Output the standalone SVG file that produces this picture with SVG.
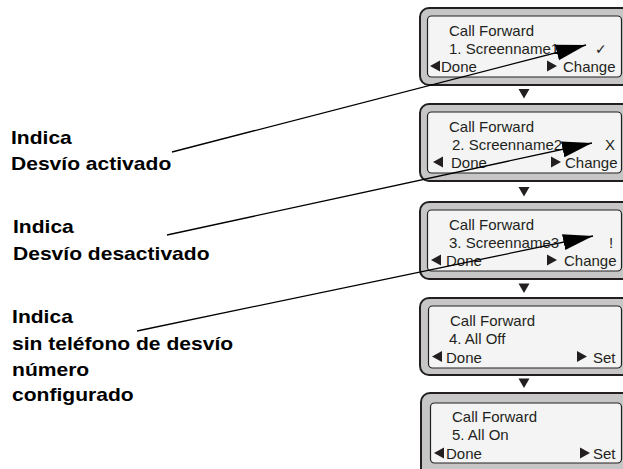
<svg xmlns="http://www.w3.org/2000/svg" width="623" height="469" viewBox="0 0 623 469">
<style>
.outer{fill:#c6c6c6;stroke:#231f20;stroke-width:2}
.screen{fill:#f4f4f4;stroke:#231f20;stroke-width:1.2}
.t{font-family:"Liberation Sans",Arial,sans-serif;font-size:15px;fill:#231f20}
.sym{font-family:"DejaVu Sans",sans-serif;font-size:14px;fill:#231f20}
.tri{fill:#231f20}
.lbl{font-family:"Liberation Sans",Arial,sans-serif;font-weight:bold;font-size:18px;fill:#000}
.conn{stroke:#000;stroke-width:1.3;fill:none}
</style>
<defs>
<marker id="ah" markerUnits="userSpaceOnUse" markerWidth="31" markerHeight="17" refX="30" refY="8" orient="auto">
<path d="M0,0 L30,8 L0,16 z" fill="#000"/>
</marker>
</defs>

<g id="box1" transform="translate(0,8)">
<rect class="outer" x="420" y="0" width="212" height="77" rx="9"/>
<rect class="screen" x="427.5" y="8" width="194" height="61" rx="4"/>
<text class="t" x="449" y="27.5">Call Forward</text>
<text class="t" x="449" y="45.5">1. Screenname1</text>
<text class="sym" x="595" y="45.5">✓</text>
<polygon class="tri" points="430,58 440,52.5 440,63.5"/>
<text class="t" x="441" y="63.5">Done</text>
<polygon class="tri" points="547,52.5 557,58 547,63.5"/>
<text class="t" x="563" y="63.5">Change</text>
</g>

<g id="box2" transform="translate(0,104)">
<rect class="outer" x="420" y="0" width="212" height="77" rx="9"/>
<rect class="screen" x="427.5" y="8" width="194" height="61" rx="4"/>
<text class="t" x="449" y="27.5">Call Forward</text>
<text class="t" x="452" y="45.5">2. Screenname2</text>
<text class="t" x="605" y="45.5">X</text>
<polygon class="tri" points="433,58 443,52.5 443,63.5"/>
<text class="t" x="451" y="63.5">Done</text>
<polygon class="tri" points="551,52.5 561,58 551,63.5"/>
<text class="t" x="565" y="63.5">Change</text>
</g>

<g id="box3" transform="translate(0,202)">
<rect class="outer" x="420" y="0" width="212" height="77" rx="9"/>
<rect class="screen" x="427.5" y="8" width="194" height="61" rx="4"/>
<text class="t" x="449" y="27.5">Call Forward</text>
<text class="t" x="449" y="45.5">3. Screenname3</text>
<text class="t" x="609" y="45.5">!</text>
<polygon class="tri" points="431,58 441,52.5 441,63.5"/>
<text class="t" x="446" y="63.5">Done</text>
<polygon class="tri" points="547,52.5 557,58 547,63.5"/>
<text class="t" x="564" y="63.5">Change</text>
</g>

<g id="box4" transform="translate(0,298)">
<rect class="outer" x="420" y="0" width="212" height="77" rx="9"/>
<rect class="screen" x="428.5" y="8" width="193" height="62" rx="4"/>
<text class="t" x="450" y="27.5">Call Forward</text>
<text class="t" x="449" y="45.5">4. All Off</text>
<polygon class="tri" points="432,58.5 442,53 442,64"/>
<text class="t" x="446" y="64.5">Done</text>
<polygon class="tri" points="577,53 587,58.5 577,64"/>
<text class="t" x="593" y="64.5">Set</text>
</g>

<g id="box5" transform="translate(0,393)">
<rect class="outer" x="421" y="0" width="212" height="90" rx="9"/>
<rect class="screen" x="430.5" y="10" width="191" height="60" rx="4"/>
<text class="t" x="452" y="29">Call Forward</text>
<text class="t" x="452" y="47">5. All On</text>
<polygon class="tri" points="434,60 444,54.5 444,65.5"/>
<text class="t" x="446" y="65.5">Done</text>
<polygon class="tri" points="580,54.5 590,60 580,65.5"/>
<text class="t" x="593" y="65.5">Set</text>
</g>

<g id="label1" transform="scale(1.17,1)">
<text class="lbl" x="9.4" y="144">Indica</text>
<text class="lbl" x="9.4" y="170">Desvío activado</text>
</g>
<g id="label2" transform="scale(1.17,1)">
<text class="lbl" x="11.1" y="233">Indica</text>
<text class="lbl" x="11.1" y="260">Desvío desactivado</text>
</g>
<g id="label3" transform="scale(1.17,1)">
<text class="lbl" x="10.3" y="323">Indica</text>
<text class="lbl" x="10.3" y="350">sin teléfono de desvío</text>
<text class="lbl" x="10.3" y="376">número</text>
<text class="lbl" x="10.3" y="401">configurado</text>
</g>

<g id="connectors">
<polygon class="tri" points="518.5,89 529.5,89 524,98.5"/>
<polygon class="tri" points="518.5,187 529.5,187 524,196.5"/>
<polygon class="tri" points="518.5,283.5 529.5,283.5 524,293"/>
<polygon class="tri" points="518.5,378.5 529.5,378.5 524,388"/>
<line class="conn" x1="172" y1="152" x2="586" y2="45" marker-end="url(#ah)"/>
<line class="conn" x1="167" y1="235" x2="592" y2="143" marker-end="url(#ah)"/>
<line class="conn" x1="137" y1="331" x2="593" y2="236" marker-end="url(#ah)"/>
</g>
</svg>
